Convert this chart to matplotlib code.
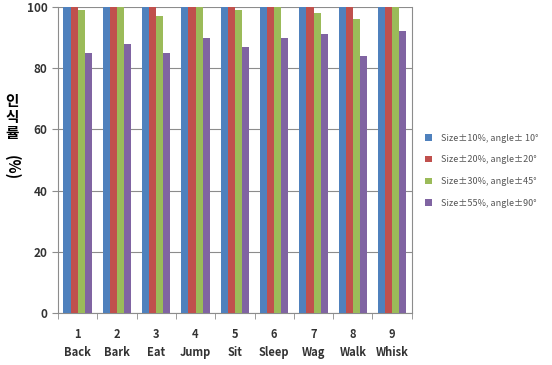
import numpy as np
import matplotlib.pyplot as plt

plt.rcParams['font.family'] = ['Noto Sans CJK KR', 'DejaVu Sans']

numbers = ['1', '2', '3', '4', '5', '6', '7', '8', '9']
actions = ['Back', 'Bark', 'Eat', 'Jump', 'Sit', 'Sleep', 'Wag', 'Walk', 'Whisk']
series_names = ['Size±10%, angle± 10°', 'Size±20%, angle±20°',
                'Size±30%, angle±45°', 'Size±55%, angle±90°']
s10 = [100, 100, 100, 100, 100, 100, 100, 100, 100]
s20 = [100, 100, 100, 100, 100, 100, 100, 100, 100]
s30 = [99, 100, 97, 100, 99, 100, 98, 96, 100]
s55 = [85, 88, 85, 90, 87, 90, 91, 84, 92]
ylabel_kr = '인식률'
ylabel_unit = '(%)'
colors = ['#4F81BD', '#C0504D', '#9BBB59', '#8064A2']

fig = plt.figure(figsize=(5.52, 3.65), dpi=100)
ax = fig.add_axes([0.105, 0.142, 0.641, 0.839])

x = np.arange(len(actions))
w = 0.18
for i, (vals, name) in enumerate(zip([s10, s20, s30, s55], series_names)):
    ax.bar(x + (i - 1.5) * w, vals, w, color=colors[i], label=name, zorder=3)

ax.set_xlim(-0.5, len(actions) - 0.5)
ax.set_ylim(0, 100)
ax.set_yticks(range(0, 101, 20))
ax.yaxis.grid(True, color='#8c8c8c', lw=0.8, zorder=0)
ax.set_xticks(x)
ax.set_xticklabels([n + '\n' + a for n, a in zip(numbers, actions)],
                   fontsize=8, fontweight='bold', color='#333333', linespacing=1.5)
ax.set_xticks(np.arange(-0.5, len(actions)), minor=True)
ax.tick_params(axis='x', which='major', length=0, pad=11)
ax.tick_params(axis='x', which='minor', length=4, color='#8c8c8c')
ax.tick_params(axis='y', length=4, color='#8c8c8c', labelsize=8.5, labelcolor='#333333')
for lab in ax.get_yticklabels():
    lab.set_fontweight('bold')
for s in ['left', 'bottom', 'right']:
    ax.spines[s].set_color('#8c8c8c')
ax.spines['top'].set_visible(False)

# stacked y label: hangul upright, unit rotated
for k, ch in enumerate(ylabel_kr):
    fig.text(0.022, 1 - (101 + 16 * k) / 365, ch, fontsize=10.5, fontweight='bold',
             ha='center', va='center')
fig.text(0.022, 1 - 168 / 365, ylabel_unit, rotation=270, fontsize=10.5,
         fontweight='bold', ha='center', va='center')

ax.legend(loc='center left', bbox_to_anchor=(1.015, 0.465), frameon=False,
          fontsize=6.5, handlelength=0.7, handleheight=0.7, labelspacing=1.4,
          handletextpad=1.1, labelcolor='#555555')

fig.savefig('out.png', dpi=100)
